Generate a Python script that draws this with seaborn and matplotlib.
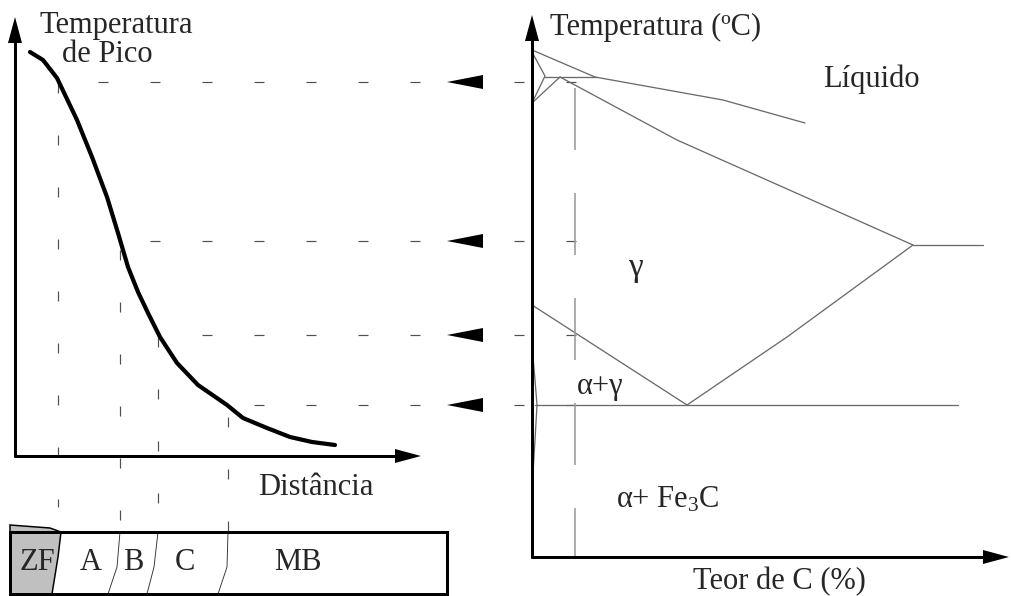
import matplotlib
matplotlib.use("Agg")
import matplotlib.pyplot as plt
import seaborn as sns
import numpy as np

sns.set_theme(style="white")
plt.rcParams['font.family'] = ['Liberation Serif', 'DejaVu Serif']
plt.rcParams['mathtext.fontset'] = 'custom'
plt.rcParams['mathtext.rm'] = 'Liberation Serif'
plt.rcParams['mathtext.default'] = 'rm'
plt.rcParams['lines.scale_dashes'] = False

# ---------------- data (schematic, pixel units) ----------------
# peak temperature vs distance curve
curve_x = [30, 43, 57, 77, 92, 107, 118, 128, 138, 148, 160, 177, 198, 227, 243, 267, 290, 312, 335]
curve_y = [52, 60, 78, 120, 157, 197, 233, 267, 292, 313, 337, 363, 385, 405, 418, 428, 437, 442, 445]

# horizontal guide levels (temperatures) and where their dashes start
guide_levels = [82, 241, 335, 405]
guide_starts = [98, 150, 202, 254]
guide_end = 577

# vertical guide positions (distances) and their extents
vguide_x = [58, 120, 158, 228]
vguide_top = [83, 250, 337, 417]
vguide_bottom = [507, 522, 503, 532]

# Fe-C diagram lines
liquidus_x = [532, 595, 723, 805]
liquidus_y = [50, 77, 100, 123]
delta_x = [532, 545, 532]
delta_y = [52, 76, 103]
peritectic_x = [545, 597]
peritectic_y = [77, 77]
delta_gamma_x = [532, 560]
delta_gamma_y = [103, 77]
solidus_x = [560, 677, 913]
solidus_y = [77, 140, 245]
eutectic_x = [913, 983]
eutectic_y = [245, 245]
a3_x = [532, 687]
a3_y = [305, 405]
acm_x = [687, 787, 913]
acm_y = [405, 337, 245]
eutectoid_x = [535, 958]
eutectoid_y = [405, 405]
alpha_x = [532, 535, 537, 535, 532]
alpha_y = [345, 380, 405, 440, 490]
comp_x = 575
comp_top, comp_bottom = 88, 557

# weld bar
bar_left, bar_right, bar_top, bar_bottom = 10, 447, 532, 594
zf_x = [10, 50, 61, 58, 52, 10]
zf_y = [525, 528, 532, 557, 594, 594]
bound_ab_x = [120, 117, 108]
bound_ab_y = [532, 567, 594]
bound_bc_x = [158, 154, 147]
bound_bc_y = [532, 567, 594]
bound_cmb_x = [228, 227, 218]
bound_cmb_y = [532, 567, 594]
zone_labels = ["ZF", "A", "B", "C", "MB"]
zone_label_x = [37, 91, 133, 185, 298]

# ---------------- figure ----------------
fig = plt.figure(figsize=(10.12, 5.96), dpi=100)
ax = fig.add_axes([0, 0, 1, 1])
ax.set_xlim(0, 1012)
ax.set_ylim(596, 0)
ax.axis('off')

PX = 0.72  # px -> pt at 100 dpi
FS = 22


def line(xs, ys, color='#707070', lw=1.3, **kw):
    sns.lineplot(x=xs, y=ys, ax=ax, sort=False, estimator=None,
                 color=color, linewidth=lw * PX, **kw)


def arrow_head(tip_x, tip_y, direction, length=25, half=7):
    if direction == 'up':
        xs = [tip_x, tip_x - half, tip_x + half]
        ys = [tip_y, tip_y + length, tip_y + length]
    elif direction == 'right':
        xs = [tip_x, tip_x - length, tip_x - length]
        ys = [tip_y, tip_y - half, tip_y + half]
    else:  # left
        xs = [tip_x, tip_x + length, tip_x + length]
        ys = [tip_y, tip_y - half, tip_y + half]
    ax.fill(xs, ys, color='black', lw=0, zorder=6)


# dashed guides
dash_h = (0, (10 * PX, 42 * PX))
for lev, st in zip(guide_levels, guide_starts):
    ax.plot([st, guide_end], [lev, lev], color='#505050', lw=1.2 * PX, linestyle=dash_h, zorder=2)
for vx, vt, vb in zip(vguide_x, vguide_top, vguide_bottom):
    ax.plot([vx, vx], [vt, vb], color='#505050', lw=1.2 * PX, linestyle=dash_h, zorder=2)

# left arrows pointing at diagram
for lev in guide_levels:
    arrow_head(447, lev, 'left', length=36, half=7)

# left axes
ax.plot([15, 15], [457, 42], color='black', lw=3 * PX, solid_capstyle='butt', zorder=5)
arrow_head(15, 17, 'up', length=26, half=7)
ax.plot([14, 397], [456, 456], color='black', lw=3 * PX, solid_capstyle='butt', zorder=5)
arrow_head(421, 456, 'right', length=26, half=7)

# peak temperature curve
line(curve_x, curve_y, color='black', lw=4.2)
ax.lines[-1].set_solid_capstyle('round')

# right axes
ax.plot([532, 532], [558, 40], color='black', lw=3 * PX, solid_capstyle='butt', zorder=5)
arrow_head(532, 15, 'up', length=26, half=7)
ax.plot([531, 985], [557, 557], color='black', lw=3 * PX, solid_capstyle='butt', zorder=5)
arrow_head(1009, 557, 'right', length=26, half=7)

# phase diagram
for xs, ys in [(liquidus_x, liquidus_y), (delta_x, delta_y), (peritectic_x, peritectic_y),
               (delta_gamma_x, delta_gamma_y), (solidus_x, solidus_y), (eutectic_x, eutectic_y),
               (a3_x, a3_y), (acm_x, acm_y), (eutectoid_x, eutectoid_y), (alpha_x, alpha_y)]:
    line(xs, ys, color='#6a6a6a', lw=1.3)

ax.plot([comp_x, comp_x], [comp_top, comp_bottom], color='#9a9a9a', lw=1.6 * PX,
        linestyle=(0, (62 * PX, 43 * PX)), zorder=2)

# weld bar
ax.fill([bar_left, bar_right, bar_right, bar_left], [bar_top, bar_top, bar_bottom, bar_bottom],
        facecolor='white', edgecolor='black', lw=3 * PX, zorder=3)
ax.fill(zf_x, zf_y, facecolor='#c0c0c0', edgecolor='black', lw=1.5 * PX, zorder=4)
ax.plot([bar_left, bar_right, bar_right, bar_left, bar_left],
        [bar_top, bar_top, bar_bottom, bar_bottom, bar_top], color='black', lw=3 * PX, zorder=5)
for bx, by in [(bound_ab_x, bound_ab_y), (bound_bc_x, bound_bc_y), (bound_cmb_x, bound_cmb_y)]:
    ax.plot(bx, by, color='#303030', lw=0.9 * PX, zorder=4)
for lab, lx in zip(zone_labels, zone_label_x):
    ax.text(lx, 570, lab, fontsize=FS, ha='center', va='baseline', zorder=6)

# texts
ax.text(40, 33, "Temperatura", fontsize=FS, va='baseline')
ax.text(62, 62, "de Pico", fontsize=FS, va='baseline')
ax.text(258, 495, "Distância", fontsize=FS, va='baseline')
ax.text(550, 35, "Temperatura (ºC)", fontsize=FS, va='baseline')
ax.text(823, 87, "Líquido", fontsize=FS, va='baseline')
ax.text(635, 268, "γ", fontsize=FS + 2, ha='center', va='center')
ax.text(577, 394, "α+γ", fontsize=FS, va='baseline')
ax.text(616, 507, r"α+ Fe$_3$C", fontsize=FS, va='baseline')
ax.text(693, 589, "Teor de C (%)", fontsize=FS, va='baseline')

fig.savefig("out.png", dpi=100, facecolor='white')
